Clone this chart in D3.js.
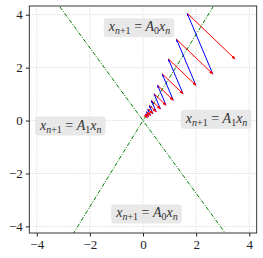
<!DOCTYPE html>
<html><head><meta charset="utf-8">
<script src="https://cdn.jsdelivr.net/npm/d3@7"></script>
<style>
body{margin:0;background:#fff;}
svg{display:block;}
text{font-family:"Liberation Serif","DejaVu Serif",serif;}
</style></head>
<body>
<script>
// ---- data ----
const xTicks = [-4, -2, 0, 2, 4];
const yTicks = [-4, -2, 0, 2, 4];
// switching lines (endpoints)
const lineA = [[-3.13, 4.3], [3.13, -4.3]];
const lineB = [[-2.64, -4.3], [2.64, 4.3]];
// trajectory points: top-cone points (T) and right-cone points (R)
const topPts = [[1.66,4.06],[1.258,3.076],[0.953,2.330],[0.722,1.765],[0.547,1.337],[0.414,1.013],
  [0.314,0.767],[0.238,0.581],[0.180,0.440],[0.136,0.334],[0.103,0.253],[0.078,0.192]];
const rightPts = [[3.47,2.32],[2.629,1.758],[1.992,1.331],[1.509,1.009],[1.143,0.764],[0.866,0.579],
  [0.656,0.439],[0.497,0.332],[0.376,0.252],[0.285,0.191],[0.216,0.144],[0.164,0.109]];
// region labels
const labels = [
  {x:-0.13, y:3.55, sub:"0"},
  {x:-2.72, y:-0.17, sub:"1"},
  {x:2.77, y:0.09, sub:"1"},
  {x:0.15, y:-3.49, sub:"0"}
];

const W = 263, H = 258;
const L = 29.3, R = 256.7, T = 6, B = 233;
const x = d3.scaleLinear().domain([-4.28, 4.28]).range([L, R]);
const y = d3.scaleLinear().domain([-4.25, 4.33]).range([B, T]);

const svg = d3.select("body").append("svg").attr("width", W).attr("height", H);
const defs = svg.append("defs");
defs.append("clipPath").attr("id","clip").append("rect")
  .attr("x",L).attr("y",T).attr("width",R-L).attr("height",B-T);
function marker(id, color, s){
  defs.append("marker").attr("id",id).attr("viewBox","0 0 10 10")
    .attr("refX",9).attr("refY",5).attr("markerWidth",s).attr("markerHeight",s)
    .attr("orient","auto").attr("markerUnits","userSpaceOnUse")
    .append("path").attr("d","M0,1 L10,5 L0,9 z").attr("fill",color);
}
marker("hr","#ff0000",4); marker("hb","#0000ff",3);

// grid
const g = svg.append("g");
g.selectAll(".gx").data(xTicks).join("line")
  .attr("x1",d=>x(d)).attr("x2",d=>x(d)).attr("y1",T).attr("y2",B)
  .attr("stroke","#c8c8c8").attr("stroke-width",0.8).attr("stroke-dasharray","1,1.5");
g.selectAll(".gy").data(yTicks).join("line")
  .attr("y1",d=>y(d)).attr("y2",d=>y(d)).attr("x1",L).attr("x2",R)
  .attr("stroke","#c8c8c8").attr("stroke-width",0.8).attr("stroke-dasharray","1,1.5");

const plot = svg.append("g").attr("clip-path","url(#clip)");
[lineA, lineB].forEach(ln=>{
  plot.append("line").attr("x1",x(ln[0][0])).attr("y1",y(ln[0][1]))
    .attr("x2",x(ln[1][0])).attr("y2",y(ln[1][1]))
    .attr("stroke","#008000").attr("stroke-width",1)
    .attr("stroke-dasharray","4,1.5,1,1.5");
});

// blue arrows: R_k -> T_{k-1}
for (let k=1;k<rightPts.length;k++){
  plot.append("line").attr("x1",x(rightPts[k][0])).attr("y1",y(rightPts[k][1]))
    .attr("x2",x(topPts[k-1][0])).attr("y2",y(topPts[k-1][1]))
    .attr("stroke","#0000ff").attr("stroke-width",1).attr("marker-end","url(#hb)");
}
// red arrows: T_k -> R_k
for (let k=0;k<topPts.length;k++){
  plot.append("line").attr("x1",x(topPts[k][0])).attr("y1",y(topPts[k][1]))
    .attr("x2",x(rightPts[k][0])).attr("y2",y(rightPts[k][1]))
    .attr("stroke","#ff0000").attr("stroke-width",1).attr("marker-end","url(#hr)");
}

// labels
labels.forEach(l=>{
  const lg = svg.append("g");
  const t = lg.append("text").attr("x",x(l.x)).attr("y",y(l.y)+4.5)
    .attr("text-anchor","middle").attr("font-size",14).attr("fill","#333");
  t.append("tspan").attr("font-style","italic").text("x");
  t.append("tspan").attr("font-style","italic").attr("font-size",10).attr("dy",3).text("n");
  t.append("tspan").attr("font-size",10).text("+1");
  t.append("tspan").attr("dy",-3).text(" = ");
  t.append("tspan").attr("font-style","italic").text("A");
  t.append("tspan").attr("font-size",10).attr("dy",3).text(l.sub);
  t.append("tspan").attr("font-style","italic").attr("dy",-3).text("x");
  t.append("tspan").attr("font-style","italic").attr("font-size",10).attr("dy",3).text("n");
  const bb = t.node().getBBox();
  lg.insert("rect","text").attr("x",bb.x-4).attr("y",bb.y-1).attr("width",bb.width+8).attr("height",bb.height+2)
    .attr("rx",3).attr("fill","#e6e6e6").attr("opacity",0.9);
});

// axes frame
svg.append("rect").attr("x",L).attr("y",T).attr("width",R-L).attr("height",B-T)
  .attr("fill","none").attr("stroke","#222").attr("stroke-width",0.9);

const xa = svg.append("g").attr("transform",`translate(0,${B})`)
  .call(d3.axisBottom(x).tickValues(xTicks).tickSize(3.5).tickPadding(3).tickFormat(d=>d<0?"\u2212"+(-d):d));
const ya = svg.append("g").attr("transform",`translate(${L},0)`)
  .call(d3.axisLeft(y).tickValues(yTicks).tickSize(3.5).tickPadding(3).tickFormat(d=>d<0?"\u2212"+(-d):d));
[xa,ya].forEach(a=>{
  a.select(".domain").remove();
  a.selectAll("line").attr("stroke","#222");
  a.selectAll("text").attr("font-size",13).attr("fill","#222")
   .style("font-family",'"Liberation Serif","DejaVu Serif",serif');
});
</script>
</body></html>
